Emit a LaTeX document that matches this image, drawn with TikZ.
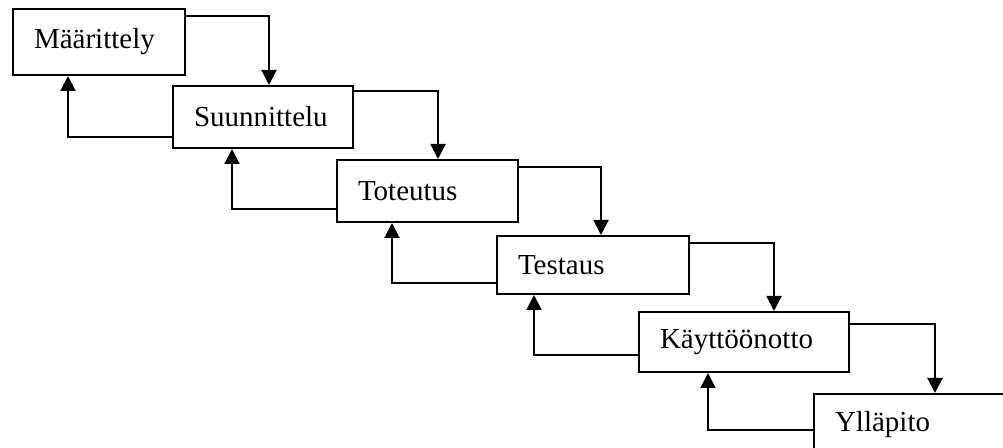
\documentclass[tikz,border=0pt]{standalone}
\usepackage{fontspec}
\setmainfont{Liberation Serif}
\usetikzlibrary{arrows.meta}

\tikzset{
	stage/.style={draw, line width=1pt, anchor=north west, align=left, inner xsep=10.5pt, font=\fontsize{14.5}{17}\selectfont},
	flow/.style={line width=1pt, -{Triangle[length=7.5pt,width=7.5pt]}}
}

\begin{document}
\begin{tikzpicture}[x=0.5pt,y=-0.5pt]
	\clip (0,0) rectangle (1003,448);
	\node[stage, text width=65pt, minimum height=33pt] (maar) at (12,8) {Määrittely};
	\node[stage, text width=69pt, minimum height=31pt] (suun) at (172,85) {Suunnittelu};
	\node[stage, text width=69.5pt, minimum height=31pt] (tote) at (336,159) {Toteutus};
	\node[stage, text width=75pt, minimum height=29pt] (test) at (496,235) {Testaus};
	\node[stage, text width=84pt, minimum height=30pt] (kayt) at (638,311) {Käyttöönotto};
	\node[stage, text width=90pt, minimum height=31pt] (yllp) at (813,393) {Ylläpito};
	% eteenpain
	\draw[flow] ([shift={(0,8)}]maar.north east) -| ([shift={(97,0)}]suun.north west);
	\draw[flow] ([shift={(0,6)}]suun.north east) -| ([shift={(102,0)}]tote.north west);
	\draw[flow] ([shift={(0,8)}]tote.north east) -| ([shift={(105,0)}]test.north west);
	\draw[flow] ([shift={(0,8)}]test.north east) -| ([shift={(136,0)}]kayt.north west);
	\draw[flow] ([shift={(0,13)}]kayt.north east) -| ([shift={(122,0)}]yllp.north west);
	% takaisin
	\draw[flow] ([shift={(0,-12)}]suun.south west) -| ([shift={(56,0)}]maar.south west);
	\draw[flow] ([shift={(0,-14)}]tote.south west) -| ([shift={(60,0)}]suun.south west);
	\draw[flow] ([shift={(0,-12)}]test.south west) -| ([shift={(56,0)}]tote.south west);
	\draw[flow] ([shift={(0,-18)}]kayt.south west) -| ([shift={(38,0)}]test.south west);
	\draw[flow] ([shift={(0,37)}]yllp.north west) -| ([shift={(70,0)}]kayt.south west);
\end{tikzpicture}
\end{document}
